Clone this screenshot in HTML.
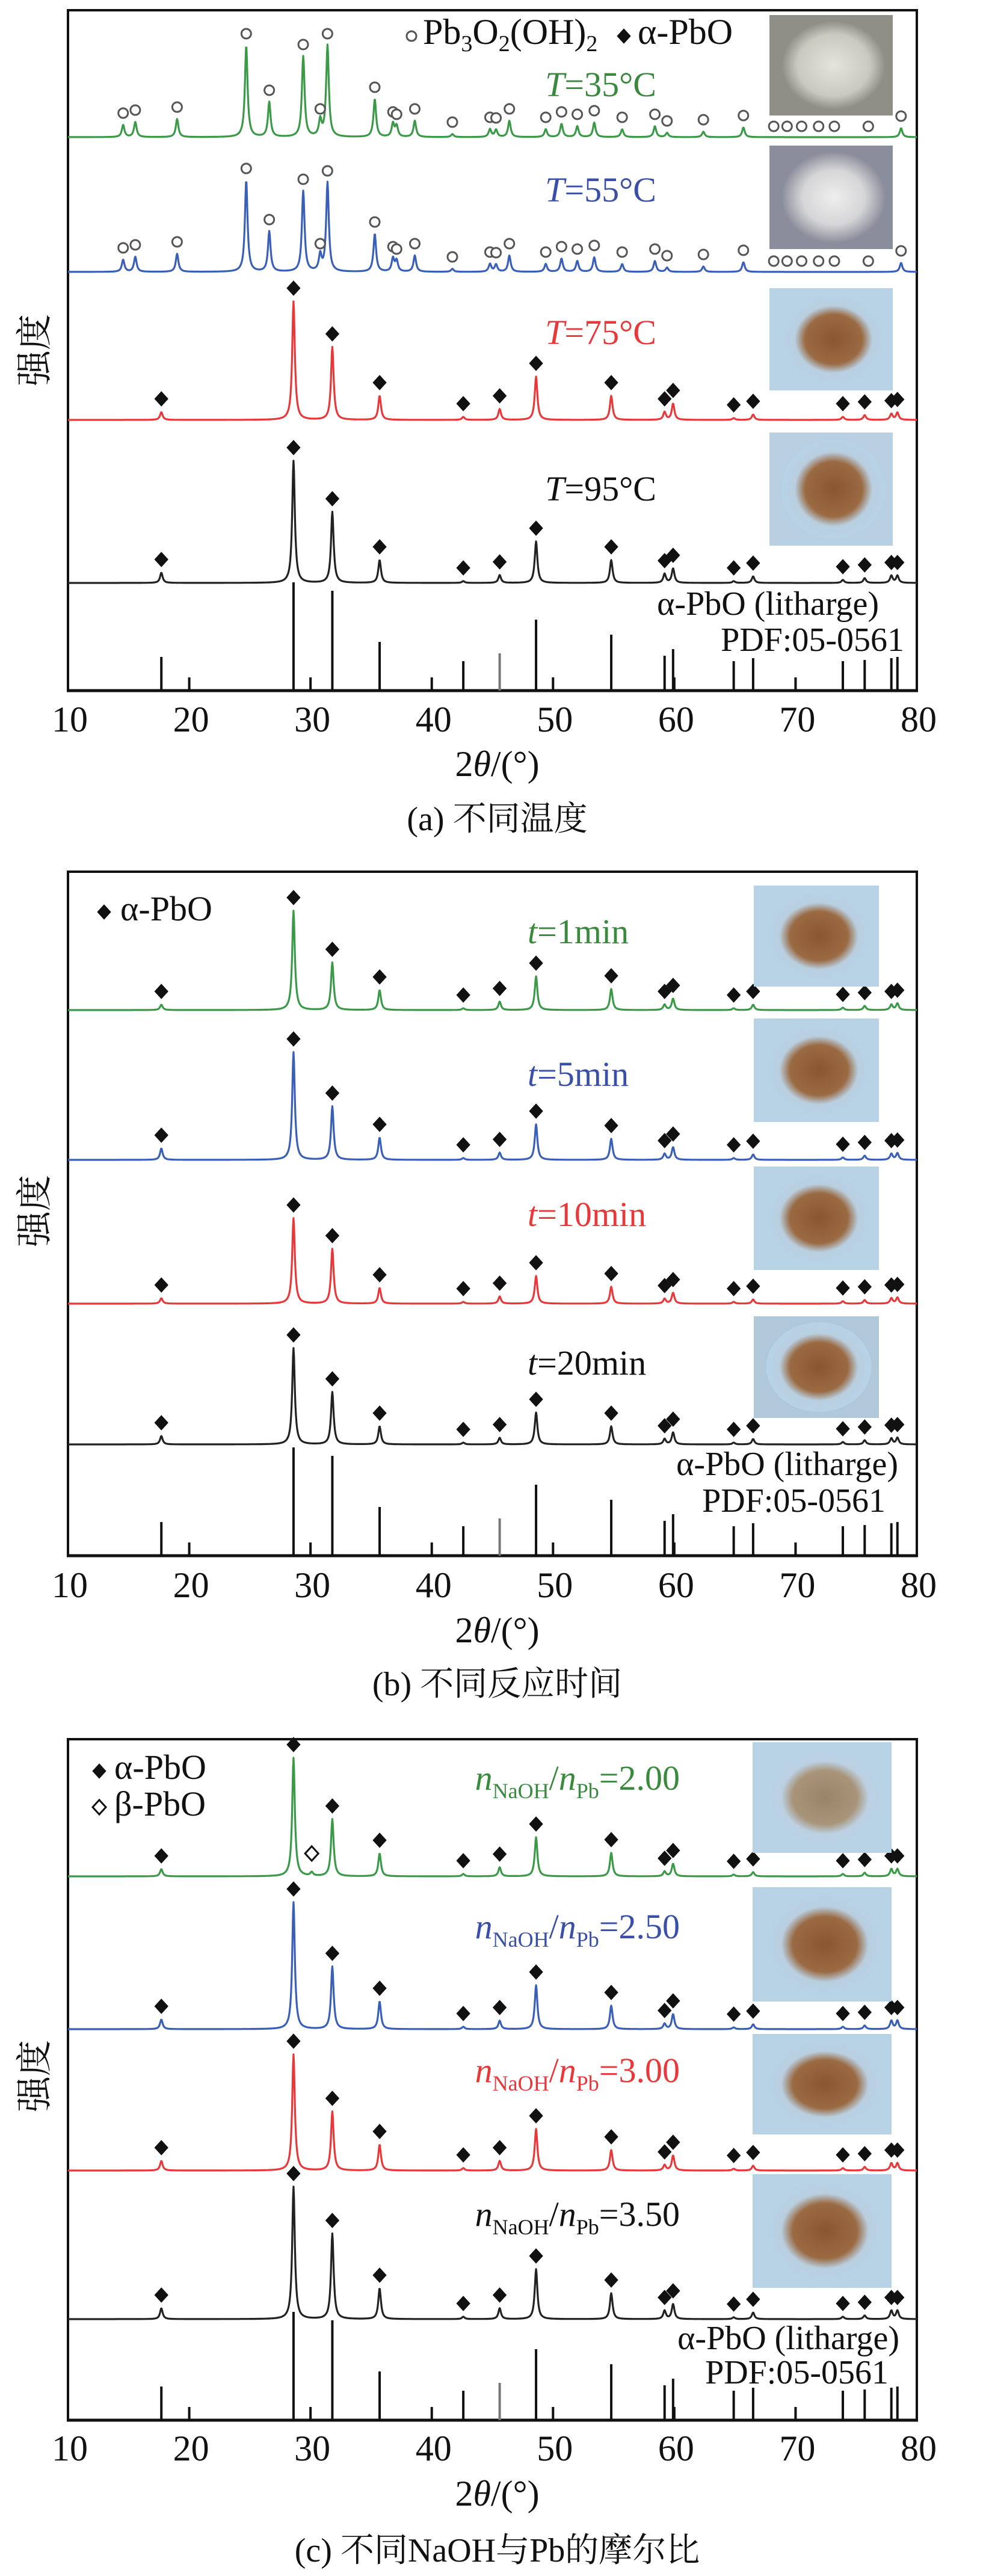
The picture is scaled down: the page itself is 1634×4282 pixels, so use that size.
<!DOCTYPE html>
<html><head><meta charset="utf-8">
<style>
html,body{margin:0;padding:0;background:#fff;}
svg{display:block;font-family:"Liberation Serif","Noto Serif CJK SC",serif;}
</style></head>
<body>
<svg id="fig" xmlns="http://www.w3.org/2000/svg" width="1634" height="4282" viewBox="0 0 1634 4282">
<defs>
<radialGradient id="gGray" cx="0.5" cy="0.5" r="0.5"><stop offset="0" stop-color="#e4e4dc"/><stop offset="0.7" stop-color="#c9c9c0"/><stop offset="1" stop-color="#8f8f88"/></radialGradient>
<radialGradient id="gBlueGray" cx="0.5" cy="0.5" r="0.5"><stop offset="0" stop-color="#eeeeee"/><stop offset="0.6" stop-color="#d6d6d8"/><stop offset="1" stop-color="#8c8e9c"/></radialGradient>
<radialGradient id="gBrown" cx="0.5" cy="0.5" r="0.5"><stop offset="0" stop-color="#8a5530"/><stop offset="0.55" stop-color="#9a6a42"/><stop offset="0.75" stop-color="#b9cfe0"/><stop offset="1" stop-color="#b8d2e6"/></radialGradient>
<radialGradient id="gTan" cx="0.5" cy="0.5" r="0.5"><stop offset="0" stop-color="#9a8468"/><stop offset="0.55" stop-color="#a89478"/><stop offset="0.75" stop-color="#bcd0e2"/><stop offset="1" stop-color="#b8d2e6"/></radialGradient>
</defs>
</svg>
<script>
// ---------- data ----------
const alphaPos = [17.7,28.6,31.8,35.7,42.6,45.6,48.6,54.8,59.2,59.9,64.9,66.5,73.9,75.7,77.9,78.4];
const refSticks = [56,180,166,81,49,62,118,93,58,69,49,54,49,51,54,56];
const pbPos = [14.55,15.55,19.0,24.7,26.6,29.4,30.8,31.4,35.3,36.8,37.1,38.6,41.7,44.8,45.3,46.4,49.4,50.7,52.0,53.4,55.7,58.4,59.4,62.4,65.7,78.7];
const pb35 = [20,25,30,152,58,134,27,152,63,22,18,27,5,13,12,27,13,22,18,24,13,18,7,9,16,15];
const pb55 = [20,25,30,152,67,134,27,148,63,22,18,27,5,13,12,27,13,22,18,24,13,18,7,9,16,15];
const pbMarkOnly = [68.2,69.3,70.5,71.9,73.2,76.0];
const a75 = [13,197,121,40,5,18,72,40,13,27,3,9,5,8,10,12];
const a95 = [17,203,118,38,3,13,69,38,15,24,3,11,5,8,12,12];
const b1 = [9,165,79,33,3,14,56,35,9,19,3,9,4,7,9,11];
const b5 = [19,179,89,37,3,12,59,35,10,21,3,9,4,7,10,11];
const b10 = [9,142,91,26,3,12,46,28,8,18,3,7,4,6,9,10];
const b20 = [14,160,87,30,3,11,53,30,9,20,3,9,4,7,10,11];
const c200 = [12,197,95,38,4,15,65,39,8,21,3,7,4,6,12,12];
const c250 = [16,211,104,46,4,14,73,39,9,25,3,8,4,6,14,14];
const c300 = [16,193,98,43,4,16,69,34,9,25,3,8,4,6,12,12];
const c350 = [18,220,142,51,4,18,83,43,14,25,3,11,4,6,14,14];
const betaPos = [30.1];
const betaH = [6];
const xTicks = [10,20,30,40,50,60,70,80];

// ---------- drawing ----------
const NS="http://www.w3.org/2000/svg";
const svg=document.getElementById('fig');
const X0=113, X1=1524;
function xs(v){return X0+(v-10)*(X1-X0)/70;}
function el(tag,attrs,parent){const e=document.createElementNS(NS,tag);for(const k in attrs)e.setAttribute(k,attrs[k]);(parent||svg).appendChild(e);return e;}
function profile(pos,h,w,x){let s=0;for(let i=0;i<pos.length;i++){const d=(x-pos[i])/w;s+=h[i]/(1+d*d);}return s;}
function drawSeries(g,base,color,sets,name){
  let d='';
  for(let x=10;x<=80.001;x+=0.04){
    let y=0;for(const s of sets)y+=profile(s[0],s[1],0.13,x);
    d+=(d?'L':'M')+xs(x).toFixed(1)+','+(base-y).toFixed(1);
  }
  const p=el('path',{d:d,fill:'none',stroke:color,'stroke-width':3.2,'stroke-linejoin':'round'},g);
  
  
}
function diamond(g,x,y,filled){
  const p=el('path',{d:`M${x},${y-12}L${x+11},${y}L${x},${y+12}L${x-11},${y}Z`,fill:filled?'#111':'#fff',stroke:'#111','stroke-width':filled?1:3},g);
  
  
}
function circ(g,x,y){
  const c=el('circle',{cx:x,cy:y,r:8,fill:'#fff',stroke:'#555','stroke-width':3},g);
  
  
}
function alphaMarks(g,base,h){
  for(let i=0;i<alphaPos.length;i++){diamond(g,xs(alphaPos[i]),base-h[i]-22,true);}
}
function photo(g,x,y,w,hh,fill,bg,name){
  const r=el('rect',{x:x,y:y,width:w,height:hh,fill:bg},g);
  
  
  el('ellipse',{cx:x+w*0.52,cy:y+hh*0.5,rx:w*0.42,ry:hh*0.44,fill:fill},g);
}
function text(g,x,y,str,size,color,anchor,name,italicPrefix){
  const t=el('text',{x:x,y:y,'font-size':size,fill:color,'text-anchor':anchor||'start'},g);
  
  
  if(italicPrefix){el('tspan',{'font-style':'italic'},t).textContent=italicPrefix;el('tspan',{},t).textContent=str;}
  else t.textContent=str;
  return t;
}
function nLabel(g,xr,y,val,color){
  const t=el('text',{x:xr,y:y,'font-size':58,fill:color,'text-anchor':'end'},g);
  
  
  el('tspan',{'font-style':'italic'},t).textContent='n';
  el('tspan',{'font-size':36,dy:14},t).textContent='NaOH';
  el('tspan',{dy:-14},t).textContent='/';
  el('tspan',{'font-style':'italic'},t).textContent='n';
  el('tspan',{'font-size':36,dy:14},t).textContent='Pb';
  el('tspan',{dy:-14},t).textContent='='+val;
}
function frame(g,top,bottom,ticksY,xlabY,capY,caption,ylabY,panel){
  const f=el('rect',{x:X0,y:top,width:X1-X0,height:bottom-top,fill:'none',stroke:'#111','stroke-width':4},g);
  
  
  el('line',{x1:X0-2,y1:bottom,x2:X1+2,y2:bottom,stroke:'#111','stroke-width':5},g);
  // reference sticks
  for(let i=0;i<alphaPos.length;i++){
    const s=el('line',{x1:xs(alphaPos[i]),y1:bottom,x2:xs(alphaPos[i]),y2:bottom-refSticks[i],stroke:i==5?'#777':'#111','stroke-width':4},g);
    
    
  }
  for(const t of xTicks){
    const tl=el('line',{x1:xs(t),y1:bottom,x2:xs(t),y2:bottom-22,stroke:'#111','stroke-width':4},g);
    
    
    text(g,xs(t)+3,ticksY,String(t),60,'#111','middle','x-tick-label');
  }
  const xl=el('text',{x:(X0+X1)/2+8,y:xlabY,'font-size':60,fill:'#111','text-anchor':'middle'},g);
  
  
  el('tspan',{},xl).textContent='2';
  el('tspan',{'font-style':'italic'},xl).textContent='θ';
  el('tspan',{},xl).textContent='/(°)';
  text(g,(X0+X1)/2+8,capY,caption,56,'#111','middle','panel-caption');
  const yl=el('text',{x:0,y:0,'font-size':60,fill:'#111','text-anchor':'middle',transform:`translate(78,${ylabY}) rotate(-90)`},g);
  
  
  yl.textContent='强度';
}
function refLabel(g,xr1,y1,xr2,y2){
  text(g,xr1,y1,'α-PbO (litharge)',56,'#111','end','reference-label');
  text(g,xr2,y2,'PDF:05-0561',56,'#111','end','reference-pdf-label');
}

// ----- panel a -----
const ga=el('g',{});
frame(ga,17,1148,1216,1290,1380,'(a) 不同温度',582,'a');
refLabel(ga,1461,1022,1503,1082);
const baseA=[228,452,698,969];
drawSeries(ga,baseA[0],'#3a9a48',[[pbPos,pb35]],'series-35c');
drawSeries(ga,baseA[1],'#3a5fb8',[[pbPos,pb55]],'series-55c');
drawSeries(ga,baseA[2],'#e8383a',[[alphaPos,a75]],'series-75c');
drawSeries(ga,baseA[3],'#222',[[alphaPos,a95]],'series-95c');
for(let i=0;i<pbPos.length;i++){circ(ga,xs(pbPos[i]),baseA[0]-pb35[i]-20);circ(ga,xs(pbPos[i]),baseA[1]-pb55[i]-20);}
for(const p of pbMarkOnly){circ(ga,xs(p),baseA[0]-18);circ(ga,xs(p),baseA[1]-18);}
alphaMarks(ga,baseA[2],a75);alphaMarks(ga,baseA[3],a95);
circ(ga,684,60);
const lg=text(ga,703,73,'',60,'#111','start','legend-entry-pb3o2oh2');
el('tspan',{},lg).textContent='Pb';el('tspan',{'font-size':38,dy:12},lg).textContent='3';el('tspan',{dy:-12},lg).textContent='O';el('tspan',{'font-size':38,dy:12},lg).textContent='2';el('tspan',{dy:-12},lg).textContent='(OH)';el('tspan',{'font-size':38,dy:12},lg).textContent='2';
diamond(ga,1037,60,true);
text(ga,1060,73,'α-PbO',60,'#111','start','legend-entry-alpha-pbo');
text(ga,1091,160,'=35°C',58,'#3a8a3e','end','label-35c','T');
text(ga,1091,335,'=55°C',58,'#3a50a8','end','label-55c','T');
text(ga,1091,572,'=75°C',58,'#e8383a','end','label-75c','T');
text(ga,1091,832,'=95°C',58,'#111','end','label-95c','T');
photo(ga,1279,25,205,167,'url(#gGray)','#8f8f88','photo-35c');
photo(ga,1279,242,205,172,'url(#gBlueGray)','#8a8d9c','photo-55c');
photo(ga,1279,479,205,170,'url(#gBrown)','#b8d2e6','photo-75c');
photo(ga,1279,719,205,188,'url(#gBrown)','#b8d0e2','photo-95c');

// ----- panel b -----
const gb=el('g',{});
frame(gb,1449,2586,2655,2730,2818,'(b) 不同反应时间',2013,'b');
refLabel(gb,1493,2452,1472,2513);
const baseB=[1679,1928,2167,2401];
drawSeries(gb,baseB[0],'#3a9a48',[[alphaPos,b1]],'series-1min');
drawSeries(gb,baseB[1],'#3a5fb8',[[alphaPos,b5]],'series-5min');
drawSeries(gb,baseB[2],'#e8383a',[[alphaPos,b10]],'series-10min');
drawSeries(gb,baseB[3],'#222',[[alphaPos,b20]],'series-20min');
alphaMarks(gb,baseB[0],b1);alphaMarks(gb,baseB[1],b5);alphaMarks(gb,baseB[2],b10);alphaMarks(gb,baseB[3],b20);
diamond(gb,173,1516,true);
text(gb,200,1530,'α-PbO',58,'#111','start','legend-entry-alpha-pbo');
text(gb,877,1568,'=1min',58,'#3a8a3e','start','label-1min','t');
text(gb,877,1805,'=5min',58,'#3a50a8','start','label-5min','t');
text(gb,877,2038,'=10min',58,'#e8383a','start','label-10min','t');
text(gb,877,2285,'=20min',58,'#111','start','label-20min','t');
photo(gb,1253,1472,208,168,'url(#gBrown)','#b8d2e6','photo-1min');
photo(gb,1253,1693,208,172,'url(#gBrown)','#b8d2e6','photo-5min');
photo(gb,1253,1939,208,172,'url(#gBrown)','#b8d2e6','photo-10min');
photo(gb,1253,2188,208,169,'url(#gBrown)','#b0c8da','photo-20min');

// ----- panel c -----
const gc=el('g',{});
frame(gc,2891,4023,4090,4165,4258,'(c) 不同NaOH与Pb的摩尔比',3451,'c');
refLabel(gc,1495,3905,1477,3962);
const baseC=[3119,3373,3608,3855];
drawSeries(gc,baseC[0],'#3a9a48',[[alphaPos,c200],[betaPos,betaH]],'series-2-00');
drawSeries(gc,baseC[1],'#3a5fb8',[[alphaPos,c250]],'series-2-50');
drawSeries(gc,baseC[2],'#e8383a',[[alphaPos,c300]],'series-3-00');
drawSeries(gc,baseC[3],'#222',[[alphaPos,c350]],'series-3-50');
alphaMarks(gc,baseC[0],c200);alphaMarks(gc,baseC[1],c250);alphaMarks(gc,baseC[2],c300);alphaMarks(gc,baseC[3],c350);
for(let i=0;i<betaPos.length;i++)diamond(gc,xs(betaPos[i]),baseC[0]-betaH[i]-32,false);
diamond(gc,165,2944,true);
text(gc,190,2957,'α-PbO',58,'#111','start','legend-entry-alpha-pbo');
diamond(gc,165,3004,false);
text(gc,190,3018,'β-PbO',58,'#111','start','legend-entry-beta-pbo');
nLabel(gc,1130,2975,'2.00','#3a8a3e');
nLabel(gc,1130,3222,'2.50','#3a50a8');
nLabel(gc,1130,3461,'3.00','#e8383a');
nLabel(gc,1130,3700,'3.50','#111');
photo(gc,1251,2896,231,184,'url(#gTan)','#b8d2e6','photo-2-00');
photo(gc,1251,3137,231,190,'url(#gBrown)','#b8d2e6','photo-2-50');
photo(gc,1251,3381,231,167,'url(#gBrown)','#b8d2e6','photo-3-00');
photo(gc,1251,3614,231,189,'url(#gBrown)','#b8d2e6','photo-3-50');
</script>
</body></html>
